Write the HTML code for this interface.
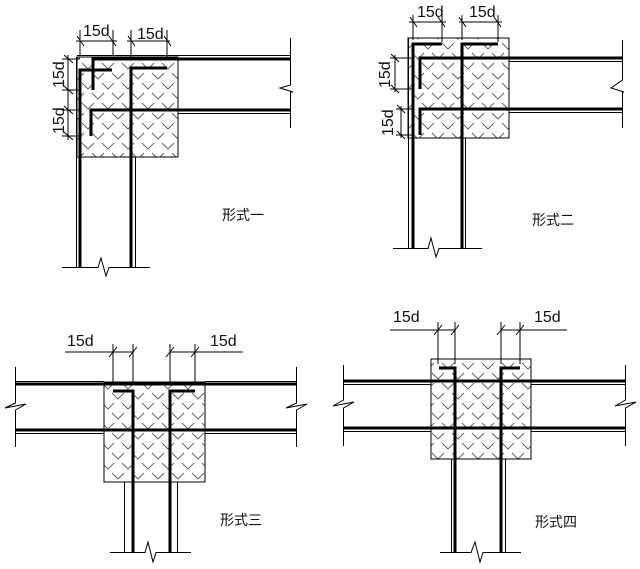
<!DOCTYPE html>
<html><head><meta charset="utf-8"><style>
html,body{margin:0;padding:0;background:#fff;}
svg{display:block;}
text{font-family:"Liberation Sans",sans-serif;font-size:16px;fill:#111;}
.cj{font-family:"Liberation Sans","Noto Sans CJK SC",sans-serif;font-size:14px;}
</style></head><body>
<svg width="640" height="569" viewBox="0 0 640 569" xmlns="http://www.w3.org/2000/svg">
<defs>
<pattern id="h" width="20" height="20" patternUnits="userSpaceOnUse">
<path d="M2,3 L8,9 L14,3 M12,13 L18,19 L24,13 M-8,13 L-2,19 L4,13" fill="none" stroke="#666" stroke-width="1"/>
</pattern>
</defs>
<g stroke="#000" fill="none">
<!-- ===== Panel 1 ===== -->
<rect x="77" y="57" width="101" height="100" fill="url(#h)" stroke="#000" stroke-width="1"/>
<line x1="77" y1="55.5" x2="290" y2="55.5" stroke-width="1"/>
<line x1="178" y1="113.5" x2="290" y2="113.5" stroke-width="1"/>
<line x1="76.5" y1="57" x2="76.5" y2="267" stroke-width="1"/>
<line x1="135.5" y1="157" x2="135.5" y2="267" stroke-width="1"/>
<polyline points="62,267.5 98,267.5 101,258 106,276 109,267.5 150,267.5" stroke-width="1"/>
<polyline points="290.5,38 290.5,85 280,88 293,92 290.5,92 290.5,128" stroke-width="1"/>
<g stroke-width="3">
<polyline points="93,90 93,59 290,59"/>
<polyline points="112,70 80,70 80,267"/>
<polyline points="167,68 131,68 131,267"/>
<polyline points="91,136 91,110 290,110"/>
</g>
<g stroke-width="1">
<line x1="76" y1="41" x2="117" y2="41"/><line x1="80" y1="30" x2="80" y2="55"/><line x1="113" y1="30" x2="113" y2="55"/>
<line x1="127" y1="41" x2="170" y2="41"/><line x1="131" y1="30" x2="131" y2="60"/><line x1="167" y1="30" x2="167" y2="60"/>
<line x1="77" y1="36" x2="84" y2="46"/><line x1="109" y1="36" x2="116" y2="46"/>
<line x1="128" y1="36" x2="135" y2="46"/><line x1="164" y1="36" x2="171" y2="46"/>
<line x1="68" y1="55" x2="68" y2="140"/>
<line x1="62" y1="59" x2="80" y2="59"/><line x1="62" y1="90" x2="80" y2="90"/>
<line x1="62" y1="110" x2="80" y2="110"/><line x1="62" y1="136" x2="80" y2="136"/>
<line x1="64" y1="55" x2="73" y2="63"/><line x1="64" y1="86" x2="73" y2="94"/>
<line x1="64" y1="106" x2="73" y2="114"/><line x1="64" y1="132" x2="73" y2="140"/>
</g>
<!-- ===== Panel 2 ===== -->
<rect x="408" y="38" width="101" height="100" fill="url(#h)" stroke="#000" stroke-width="1"/>
<line x1="509" y1="61.5" x2="622" y2="61.5" stroke-width="1"/>
<line x1="509" y1="112.5" x2="622" y2="112.5" stroke-width="1"/>
<line x1="408.5" y1="38" x2="408.5" y2="248" stroke-width="1"/>
<line x1="465.5" y1="138" x2="465.5" y2="248" stroke-width="1"/>
<polyline points="393,248.5 428,248.5 431,238 436,257 439,248.5 482,248.5" stroke-width="1"/>
<polyline points="622.5,40 622.5,80 611,88 624,92 622.5,92 622.5,128" stroke-width="1"/>
<g stroke-width="3">
<polyline points="442,44 413,44 413,248"/>
<polyline points="498,44 462,44 462,248"/>
<polyline points="420,89 420,58 622,58"/>
<polyline points="420,135 420,109 622,109"/>
</g>
<g stroke-width="1">
<line x1="409" y1="22" x2="446" y2="22"/><line x1="413" y1="15" x2="413" y2="40"/><line x1="442" y1="15" x2="442" y2="42"/>
<line x1="459" y1="22" x2="502" y2="22"/><line x1="462" y1="15" x2="462" y2="40"/><line x1="498" y1="15" x2="498" y2="42"/>
<line x1="410" y1="17" x2="417" y2="27"/><line x1="438" y1="17" x2="445" y2="27"/>
<line x1="459" y1="17" x2="466" y2="27"/><line x1="494" y1="17" x2="501" y2="27"/>
<line x1="395" y1="55" x2="395" y2="92"/><line x1="401" y1="106" x2="401" y2="138"/>
<line x1="390" y1="58" x2="413" y2="58"/><line x1="390" y1="89" x2="413" y2="89"/>
<line x1="396" y1="109" x2="413" y2="109"/><line x1="396" y1="135" x2="413" y2="135"/>
<line x1="391" y1="54" x2="399" y2="62"/><line x1="391" y1="85" x2="399" y2="93"/>
<line x1="397" y1="105" x2="405" y2="113"/><line x1="397" y1="131" x2="405" y2="139"/>
</g>
<!-- ===== Panel 3 ===== -->
<rect x="104" y="382" width="101" height="100" fill="url(#h)" stroke="#000" stroke-width="1"/>
<line x1="15" y1="381.5" x2="104" y2="381.5" stroke-width="1"/><line x1="205" y1="381.5" x2="296" y2="381.5" stroke-width="1"/>
<line x1="15" y1="433.5" x2="104" y2="433.5" stroke-width="1"/><line x1="205" y1="433.5" x2="296" y2="433.5" stroke-width="1"/>
<polyline points="15.5,367 15.5,403 5,408 26,404 15.5,410 15.5,447" stroke-width="1"/>
<polyline points="296.5,367 296.5,403 286,408 307,404 296.5,410 296.5,447" stroke-width="1"/>
<line x1="124.5" y1="482" x2="124.5" y2="552" stroke-width="1"/>
<line x1="177.5" y1="482" x2="177.5" y2="552" stroke-width="1"/>
<polyline points="110,552.5 145,552.5 148,542 153,562 156,552.5 191,552.5" stroke-width="1"/>
<g stroke-width="3">
<line x1="15" y1="384" x2="296" y2="384"/>
<line x1="15" y1="430" x2="296" y2="430"/>
<polyline points="113,391 133,391 133,552"/>
<polyline points="195,391 170,391 170,552"/>
</g>
<g stroke-width="1">
<line x1="65" y1="352" x2="133" y2="352"/><line x1="170" y1="352" x2="243" y2="352"/>
<line x1="113" y1="344" x2="113" y2="384"/><line x1="133" y1="344" x2="133" y2="384"/>
<line x1="170" y1="344" x2="170" y2="384"/><line x1="195" y1="344" x2="195" y2="384"/>
<line x1="109" y1="357" x2="117" y2="347"/><line x1="129" y1="357" x2="137" y2="347"/>
<line x1="166" y1="357" x2="174" y2="347"/><line x1="191" y1="357" x2="199" y2="347"/>
</g>
<!-- ===== Panel 4 ===== -->
<rect x="431" y="359" width="100" height="100" fill="url(#h)" stroke="#000" stroke-width="1"/>
<line x1="343" y1="384.5" x2="431" y2="384.5" stroke-width="1"/><line x1="531" y1="384.5" x2="625" y2="384.5" stroke-width="1"/>
<line x1="343" y1="431.5" x2="431" y2="431.5" stroke-width="1"/><line x1="531" y1="431.5" x2="625" y2="431.5" stroke-width="1"/>
<polyline points="343.5,365 343.5,400 333,406 354,402 343.5,408 343.5,446" stroke-width="1"/>
<polyline points="625.5,365 625.5,400 615,406 636,402 625.5,408 625.5,446" stroke-width="1"/>
<line x1="451.5" y1="459" x2="451.5" y2="552" stroke-width="1"/>
<line x1="505.5" y1="459" x2="505.5" y2="552" stroke-width="1"/>
<polyline points="440,552.5 471,552.5 475,542 480,562 483,552.5 521,552.5" stroke-width="1"/>
<g stroke-width="3">
<line x1="343" y1="381" x2="625" y2="381"/>
<line x1="343" y1="428" x2="625" y2="428"/>
<polyline points="439,368 455,368 455,552"/>
<polyline points="520,368 501,368 501,552"/>
</g>
<g stroke-width="1">
<line x1="390" y1="330" x2="455" y2="330"/><line x1="501" y1="330" x2="567" y2="330"/>
<line x1="438" y1="322" x2="438" y2="364"/><line x1="455" y1="322" x2="455" y2="364"/>
<line x1="501" y1="322" x2="501" y2="364"/><line x1="520" y1="322" x2="520" y2="364"/>
<line x1="434" y1="335" x2="442" y2="325"/><line x1="451" y1="335" x2="459" y2="325"/>
<line x1="497" y1="335" x2="505" y2="325"/><line x1="516" y1="335" x2="524" y2="325"/>
</g>
</g>
<text x="83" y="36">15d</text>
<text x="137" y="39">15d</text>
<text transform="translate(64,88) rotate(-90)">15d</text>
<text transform="translate(64,134) rotate(-90)">15d</text>
<text x="417" y="17">15d</text>
<text x="469" y="17">15d</text>
<text transform="translate(390,88) rotate(-90)">15d</text>
<text transform="translate(393,136) rotate(-90)">15d</text>
<text x="67" y="346">15d</text>
<text x="210" y="346">15d</text>
<text x="393" y="322">15d</text>
<text x="534" y="322">15d</text>
<text class="cj" x="222" y="220">形式一</text>
<text class="cj" x="532" y="225">形式二</text>
<text class="cj" x="220" y="525">形式三</text>
<text class="cj" x="535" y="527">形式四</text>
</svg>
</body></html>
